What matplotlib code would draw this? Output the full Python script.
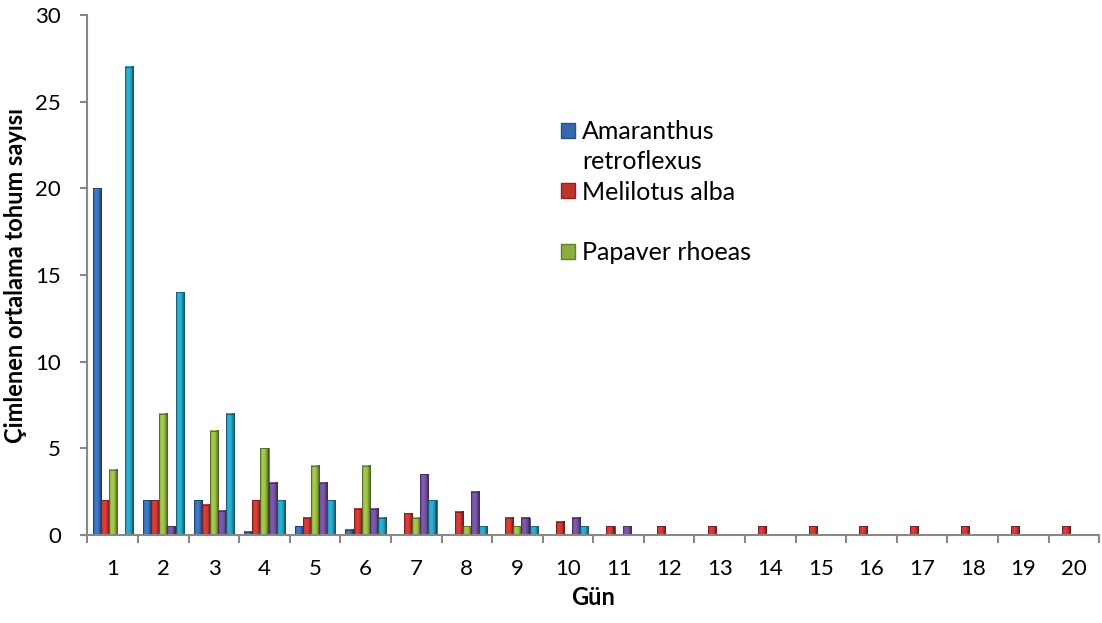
import matplotlib
matplotlib.use("Agg")
import matplotlib.pyplot as plt
import numpy as np
from matplotlib.colors import to_rgb
from matplotlib.patches import Rectangle

plt.rcParams['font.family'] = ['Lato', 'DejaVu Sans']

days = list(range(1, 21))
series_names = ['Amaranthus retroflexus', 'Melilotus alba', 'Papaver rhoeas', 'Seri 4', 'Seri 5']
amaranthus = [20, 2, 2, 0.2, 0.5, 0.3, 0, 0, 0, 0, 0, 0, 0, 0, 0, 0, 0, 0, 0, 0]
melilotus = [2, 2, 1.75, 2, 1, 1.5, 1.25, 1.35, 1, 0.75, 0.5, 0.5, 0.5, 0.5, 0.5, 0.5, 0.5, 0.5, 0.5, 0.5]
papaver = [3.75, 7, 6, 5, 4, 4, 1, 0.5, 0.5, 0, 0, 0, 0, 0, 0, 0, 0, 0, 0, 0]
seri4 = [0, 0.5, 1.4, 3, 3, 1.5, 3.5, 2.5, 1, 1, 0.5, 0, 0, 0, 0, 0, 0, 0, 0, 0]
seri5 = [27, 14, 7, 2, 2, 1, 2, 0.5, 0.5, 0.5, 0, 0, 0, 0, 0, 0, 0, 0, 0, 0]
colors = ['#3568ab', '#bd3430', '#8bad3f', '#6c4c95', '#2597b5']


def shaded_bar(ax, x, h, w, color):
    # cylinder-like shading across the bar width
    t = np.linspace(-1, 1, 24)
    shade = 1.18 - 0.5 * (t + 0.25) ** 2
    rgb = np.clip(np.outer(shade, to_rgb(color)), 0, 1)
    img = rgb[np.newaxis, :, :]
    ax.imshow(img, extent=[x - w / 2, x + w / 2, 0, h], aspect='auto',
              interpolation='bilinear', zorder=2)
    ax.add_patch(Rectangle((x - w / 2, 0), w, h, fill=False,
                           edgecolor=np.array(to_rgb(color)) * 0.6, lw=0.6, zorder=3))


fig = plt.figure(figsize=(11.02, 6.23), dpi=100)
ax = fig.add_axes([0.0794, 0.141, 0.918, 0.835])

values = [amaranthus, melilotus, papaver, seri4, seri5]
x = np.array(days, dtype=float)
w = 0.16
for i, (vals, c) in enumerate(zip(values, colors)):
    offs = (i - 2) * w
    for xi, v in zip(x, vals):
        shaded_bar(ax, xi + offs, v, w, c)

ax.set_xlim(0.5, 20.5)
ax.set_ylim(0, 30)
ax.set_yticks([0, 5, 10, 15, 20, 25, 30])
ax.set_xticks(np.arange(0.5, 21, 1))
ax.set_xticklabels([])
ax.set_xticks(x, minor=True)
ax.set_xticklabels([str(d) for d in days], minor=True)
ax.tick_params(axis='x', which='major', direction='out', length=6, width=1.5, color='#888888')
ax.tick_params(axis='x', which='minor', length=0, pad=17, labelsize=16)
ax.tick_params(axis='y', direction='out', length=5, width=1.5, color='#888888', labelsize=16, pad=14)

for s in ['top', 'right']:
    ax.spines[s].set_visible(False)
for s in ['left', 'bottom']:
    ax.spines[s].set_color('#888888')
    ax.spines[s].set_linewidth(1.5)
ax.spines['bottom'].set_zorder(4)

ax.set_xlabel('Gün', fontsize=17, fontweight='bold', labelpad=5)
ax.set_ylabel('Çimlenen ortalama tohum sayısı', fontsize=17, fontweight='bold', labelpad=6)

# legend: only first three series shown, first name wraps onto a second line
handles = [Rectangle((0, 0), 1, 1, facecolor=colors[0], edgecolor='#2a5088'),
           Rectangle((0, 0), 1, 1, visible=False),
           Rectangle((0, 0), 1, 1, facecolor=colors[1], edgecolor='#8a2522'),
           Rectangle((0, 0), 1, 1, visible=False),
           Rectangle((0, 0), 1, 1, facecolor=colors[2], edgecolor='#61802a')]
labels = ['Amaranthus', 'retroflexus', 'Melilotus alba', '', 'Papaver rhoeas']
ax.legend(handles, labels, loc='upper left', bbox_to_anchor=(561 / 1102, 1 - 120 / 623),
          bbox_transform=fig.transFigure, frameon=False, fontsize=18,
          handlelength=0.55, handleheight=0.55, handletextpad=0.3,
          labelspacing=0.29, borderpad=0, borderaxespad=0)

fig.savefig('out.png', dpi=100)
